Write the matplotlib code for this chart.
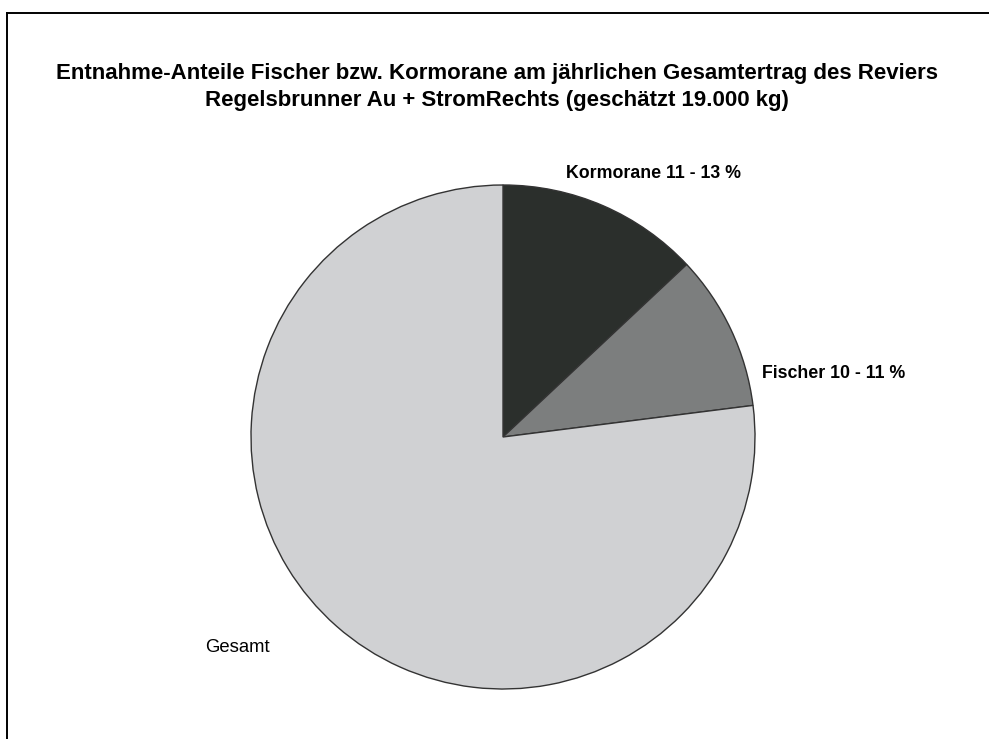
import matplotlib
matplotlib.use('Agg')
import matplotlib.pyplot as plt
from matplotlib.lines import Line2D

plt.rcParams['font.family'] = ['Liberation Sans', 'DejaVu Sans']

# Entnahme-Anteile
categories = ['Kormorane', 'Fischer', 'Gesamt']
shares = [13, 10, 77]
labels = ['Kormorane 11 - 13 %', 'Fischer 10 - 11 %', 'Gesamt']
colors = ['#2b2f2c', '#7c7e7e', '#d0d1d3']

W, H = 989, 739
fig = plt.figure(figsize=(W / 100, H / 100), dpi=100)
ax = fig.add_axes([0, 0, 1, 1])

ax.pie(shares, colors=colors, startangle=90, counterclock=False,
       center=(503, H - 437), radius=252, frame=True,
       wedgeprops={'edgecolor': '#333333', 'linewidth': 1.0})
ax.set_xlim(0, W)
ax.set_ylim(0, H)
ax.axis('off')

# Rahmen oben und links
fig.add_artist(Line2D([7 / W, 1], [1 - 12.5 / H, 1 - 12.5 / H],
                      color='black', lw=1.4, transform=fig.transFigure))
fig.add_artist(Line2D([7 / W, 7 / W], [0, 1 - 12.5 / H],
                      color='black', lw=1.4, transform=fig.transFigure))

fig.text(497 / W, 1 - 87 / H,
         'Entnahme-Anteile Fischer bzw. Kormorane am jährlichen Gesamtertrag des Reviers\n'
         'Regelsbrunner Au + StromRechts (geschätzt 19.000 kg)',
         ha='center', va='center', fontsize=16, fontweight='bold', linespacing=1.38)

label_pos = [(566, 174), (762, 373), (205, 647)]
for (x, y), txt, cat in zip(label_pos, labels, categories):
    if cat == 'Gesamt':
        ax.text(x, H - y, txt, ha='left', va='center', fontsize=13.3)
    else:
        ax.text(x, H - y, txt, ha='left', va='center', fontsize=12.8,
                fontweight='bold')

fig.savefig('out.png', dpi=100)
